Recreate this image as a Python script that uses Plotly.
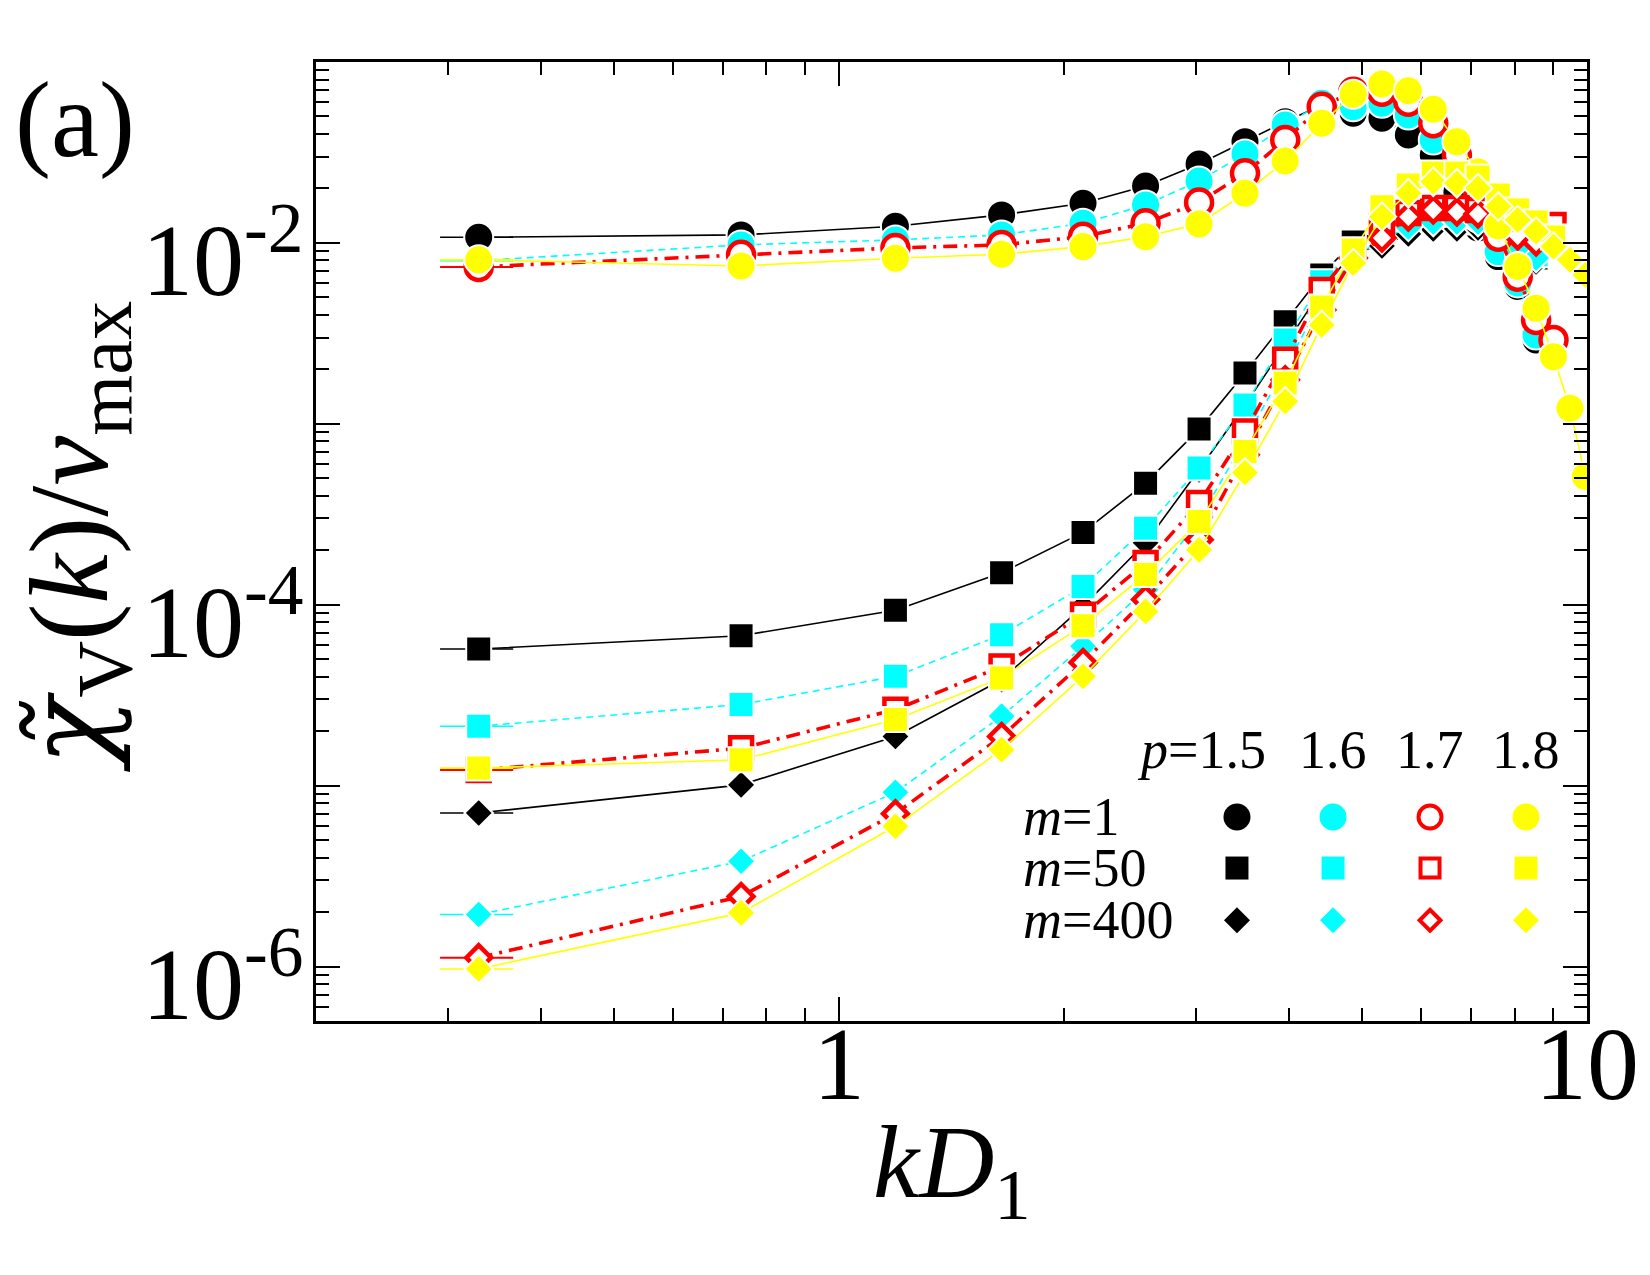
import math
import plotly.graph_objects as go

# ---------------- data ----------------
KD = [0.33, 0.74, 1.19, 1.65, 2.12, 2.57, 3.03, 3.49, 3.95, 4.42, 4.87, 5.32,
      5.77, 6.23, 6.70, 7.15, 7.61, 8.08, 8.55, 9.02, 9.49, 9.95]

# m = 1 (circles)
m1_p15 = [0.01075, 0.01107, 0.01237, 0.01428, 0.01657, 0.02065, 0.02732, 0.03628, 0.04680,
          0.05786, 0.05208, 0.04887, 0.03951, 0.03063, 0.01913, 0.01210, 0.00840, 0.00574, 0.00291]
m1_p16 = [0.00798, 0.00975, 0.01039, 0.01107, 0.01285, 0.01622, 0.02201, 0.03102, 0.04486,
          0.05912, 0.05662, 0.05912, 0.05096, 0.03707, 0.02285, 0.01374, 0.00895, 0.00601, 0.00310]
m1_p17 = [0.00737, 0.00859, 0.00938, 0.00975, 0.01083, 0.01285, 0.01674, 0.02428, 0.03707,
          0.05662, 0.06853, 0.06853, 0.06035, 0.04585, 0.03063, 0.01842, 0.01083, 0.00651, 0.00375, 0.00291]
m1_p18 = [0.00806, 0.00746, 0.00823, 0.00866, 0.00954, 0.01083, 0.01274, 0.01882, 0.02838,
          0.04585, 0.06630, 0.07557, 0.06940, 0.05480, 0.03628, 0.02469, 0.01241, 0.00740, 0.00436,
          0.00235, 0.00122, 0.000511]

# m = 50 (squares)
m50_p15 = [5.69e-5, 6.74e-5, 9.33e-5, 1.50e-4, 2.51e-4, 4.70e-4, 9.35e-4, 1.91e-3, 3.67e-3,
           6.65e-3, 1.013e-2, 1.18e-2, 1.306e-2, 1.374e-2, 1.374e-2, 1.306e-2, 1.066e-2, 9.15e-3, 8.26e-3]
m50_p16 = [2.13e-5, 2.81e-5, 4.02e-5, 6.82e-5, 1.26e-4, 2.65e-4, 5.69e-4, 1.27e-3, 2.91e-3,
           6.09e-3, 9.15e-3, 1.21e-2, 1.374e-2, 1.446e-2, 1.446e-2, 1.41e-2, 1.15e-2, 9.75e-3, 8.59e-3]
m50_p17 = [1.22e-5, 1.61e-5, 2.63e-5, 4.56e-5, 8.81e-5, 1.70e-4, 3.65e-4, 9.06e-4, 2.26e-3,
           5.50e-3, 9.15e-3, 1.241e-2, 1.465e-2, 1.561e-2, 1.561e-2, 1.521e-2, 1.41e-2, 1.306e-2,
           1.241e-2, 1.257e-2]
m50_p18 = [1.25e-5, 1.39e-5, 2.32e-5, 3.94e-5, 7.66e-5, 1.47e-4, 2.88e-4, 7.03e-4, 1.68e-3,
           4.43e-3, 9.15e-3, 1.582e-2, 2.09e-2, 2.436e-2, 2.436e-2, 2.315e-2, 1.842e-2, 1.521e-2,
           1.306e-2, 1.079e-2]

# m = 400 (diamonds)
m400_p15 = [7.06e-6, 1.01e-5, 1.87e-5, 3.85e-5, 9.79e-5, 2.20e-4, 5.57e-4, 1.27e-3, 2.73e-3,
            5.50e-3, 8.92e-3, 9.62e-3, 1.121e-2, 1.195e-2, 1.195e-2, 1.21e-2, 1.039e-2, 8.92e-3, 7.85e-3]
m400_p16 = [1.94e-6, 3.82e-6, 9.19e-6, 2.42e-5, 5.89e-5, 1.21e-4, 2.95e-4, 8.15e-4, 2.04e-3,
            4.84e-3, 8.37e-3, 1.039e-2, 1.226e-2, 1.306e-2, 1.306e-2, 1.306e-2, 1.093e-2, 9.15e-3, 8.26e-3]
m400_p17 = [1.12e-6, 2.44e-6, 7.0e-6, 1.87e-5, 4.79e-5, 1.07e-4, 2.29e-4, 6.74e-4, 1.75e-3,
            4.26e-3, 8.26e-3, 1.066e-2, 1.392e-2, 1.521e-2, 1.483e-2, 1.446e-2, 1.241e-2, 1.093e-2, 1.013e-2]
m400_p18 = [9.7e-7, 1.98e-6, 5.96e-6, 1.58e-5, 4.02e-5, 9.18e-5, 2.01e-4, 5.38e-4, 1.33e-3,
            3.52e-3, 7.73e-3, 1.397e-2, 1.882e-2, 2.18e-2, 2.137e-2, 2.005e-2, 1.588e-2, 1.34e-2,
            1.154e-2, 9.54e-3, 8.06e-3, 6.65e-3]

KD_ERR_FIRST = 0.037   # horizontal bar on the first point

P_LABELS = ["1.5", "1.6", "1.7", "1.8"]
M_LABELS = ["1", "50", "400"]

X_TICKVALS = [1, 10]
X_TICKTEXT = ["1", "10"]
X_MINOR = [0.3, 0.4, 0.5, 0.6, 0.7, 0.8, 0.9, 2, 3, 4, 5, 6, 7, 8, 9]
Y_TICKVALS = [1e-6, 1e-5, 1e-4, 1e-3, 1e-2, 1e-1]
Y_LABELED = [1e-6, 1e-4, 1e-2]
Y_LABELTEXT = ["10<sup>-6</sup>", "10<sup>-4</sup>", "10<sup>-2</sup>"]
Y_MINOR = [k * 10.0 ** e for e in range(-7, -1) for k in range(2, 10) if 5e-7 <= k * 10.0 ** e <= 0.1]

# ---------------- styles ----------------
FONT = "Liberation Serif"
p_styles = [
    dict(color="black", dash="solid", width=1.6, open=False),
    dict(color="#00FFFF", dash="7px,5px", width=1.6, open=False),
    dict(color="#FF0000", dash="14px,7px,3px,7px", width=3.6, open=True),
    dict(color="#FFFF00", dash="solid", width=1.6, open=False),
]
m_symbols = [("circle", 29), ("square", 25), ("diamond", 22)]

series = [
    [m1_p15, m50_p15, m400_p15],
    [m1_p16, m50_p16, m400_p16],
    [m1_p17, m50_p17, m400_p17],
    [m1_p18, m50_p18, m400_p18],
]

fig = go.Figure()

for pi, st in enumerate(p_styles):
    for mi, (sym, size) in enumerate(m_symbols):
        vals = series[pi][mi]
        n = len(vals)
        if st["open"]:
            marker = dict(symbol=sym, size=size - 3, color="white",
                          line=dict(color=st["color"], width=4.5))
        else:
            marker = dict(symbol=sym, size=size, color=st["color"],
                          line=dict(color="white", width=2))
        fig.add_trace(go.Scatter(
            x=KD[:n], y=vals, mode="lines+markers",
            line=dict(color=st["color"], dash=st["dash"], width=st["width"]),
            marker=marker,
            error_x=dict(type="data", array=[KD_ERR_FIRST] + [0] * (n - 1),
                         width=0, thickness=2 if st["open"] else 1.6, color=st["color"]),
            showlegend=False, hoverinfo="skip",
        ))

# ---------------- custom key (overlay axes in plot-fraction units) ----------------
KEY_COLS = [0.7246, 0.8002, 0.8765, 0.952]
KEY_ROWS = [0.2127, 0.1595, 0.1050]
for pi, st in enumerate(p_styles):
    for mi, (sym, size) in enumerate(m_symbols):
        if st["open"]:
            marker = dict(symbol=sym, size=size - 6, color="white",
                          line=dict(color=st["color"], width=4))
        else:
            marker = dict(symbol=sym, size=size - 2, color=st["color"], line=dict(width=0))
        fig.add_trace(go.Scatter(
            x=[KEY_COLS[pi]], y=[KEY_ROWS[mi]], mode="markers", marker=marker,
            xaxis="x2", yaxis="y2", showlegend=False, hoverinfo="skip",
        ))

annotations = []
annotations.append(dict(text="<i>p</i>=" + P_LABELS[0], x=0.749, y=0.2826, xanchor="right",
                        yanchor="middle", font=dict(size=54)))
for pi in range(1, 4):
    annotations.append(dict(text=P_LABELS[pi], x=KEY_COLS[pi], y=0.2826, xanchor="center",
                            yanchor="middle", font=dict(size=54)))
for mi in range(3):
    annotations.append(dict(text="<i>m</i>=" + M_LABELS[mi], x=0.5547, y=KEY_ROWS[mi],
                            xanchor="left", yanchor="middle", font=dict(size=54)))
annotations.append(dict(text="(a)", x=-0.19, y=0.9395, xanchor="center", yanchor="middle",
                        font=dict(size=108)))
annotations.append(dict(
    text="<span style=\"font-family:'DejaVu Serif'\"><i>χ̃</i></span><sub>V</sub>(<i>k</i>)/<i>v</i><sub>max</sub>",
    x=-0.189, y=0.505, textangle=-90, xanchor="center", yanchor="middle",
    font=dict(size=112)))
annotations.append(dict(text="<i>kD</i><sub>1</sub>", x=0.5, y=-0.155, xanchor="center",
                        yanchor="middle", font=dict(size=104)))
for a in annotations:
    a.update(xref="paper", yref="paper", showarrow=False)
    a.setdefault("font", {})
    a["font"].update(family=FONT, color="black")

# y tick labels placed at the decade values of the y axis
for v, t in zip(Y_LABELED, Y_LABELTEXT):
    annotations.append(dict(text=t, xref="paper", yref="y", x=-0.009, y=math.log10(v),
                            xanchor="right", yanchor="middle", yshift=-10, showarrow=False,
                            font=dict(size=102, family=FONT, color="black")))

axis_common = dict(showline=True, linecolor="black", linewidth=3, mirror="allticks",
                   ticks="inside", ticklen=24, tickwidth=2, tickcolor="black",
                   showgrid=False, zeroline=False)

fig.update_layout(
    width=1650, height=1275,
    margin=dict(l=316, r=63, t=62, b=254),
    paper_bgcolor="white", plot_bgcolor="white",
    font=dict(family=FONT, color="black"),
    xaxis=dict(type="log", range=[-0.69897, 1.0], tickmode="array",
               tickvals=X_TICKVALS, ticktext=X_TICKTEXT,
               tickfont=dict(size=104, family=FONT), ticklabelstandoff=-50,
               minor=dict(tickmode="array", tickvals=X_MINOR, ticks="inside", ticklen=13,
                          tickwidth=2, tickcolor="black", showgrid=False),
               **axis_common),
    yaxis=dict(type="log", range=[-6.30103, -1.0], tickmode="array",
               tickvals=Y_TICKVALS, showticklabels=False,
               minor=dict(tickmode="array", tickvals=Y_MINOR, ticks="inside", ticklen=13,
                          tickwidth=2, tickcolor="black", showgrid=False),
               **axis_common),
    xaxis2=dict(overlaying="x", range=[0, 1], visible=False, fixedrange=True),
    yaxis2=dict(overlaying="y", range=[0, 1], visible=False, fixedrange=True),
    annotations=annotations,
    showlegend=False,
)

fig.write_html("out.html")
